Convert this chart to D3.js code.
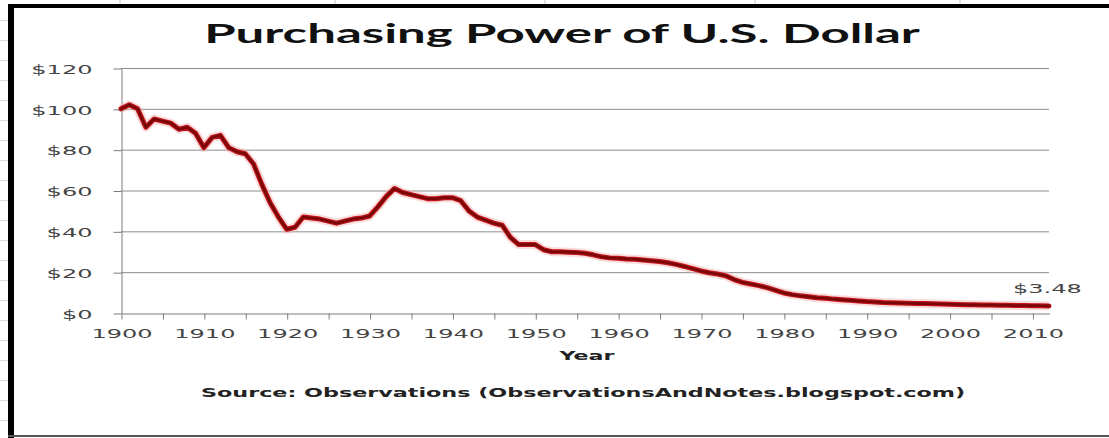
<!DOCTYPE html>
<html>
<head>
<meta charset="utf-8">
<script src="https://cdn.jsdelivr.net/npm/d3@7"></script>
<style>
  body { margin: 0; background: #fff; }
  svg { display: block; }
</style>
</head>
<body>
<div id="chart"></div>
<script>
'use strict';

// one value per year, 1900 .. 2012 (value of $100 from 1900)
var years = d3.range(1900, 2013);
var dollarValues = [
  100, 102, 100, 91, 95, 94, 93, 90, 91, 88,          // 1900s
  81, 86, 87, 81, 79, 78, 73, 63, 54, 47,             // 1910s
  41, 42, 47, 46.5, 46, 45, 44, 45, 46, 46.5,         // 1920s
  47.5, 52, 57, 61, 59, 58, 57, 56, 56, 56.5,         // 1930s
  56.5, 55, 50, 47, 45.5, 44, 43, 37, 33.5, 33.5,     // 1940s
  33.5, 31, 30, 30, 29.8, 29.6, 29.3, 28.5, 27.5, 27, // 1950s
  26.8, 26.5, 26.3, 26, 25.6, 25.2, 24.6, 23.8, 22.8, 21.7, // 1960s
  20.6, 19.7, 19.1, 18.2, 16.4, 15.0, 14.2, 13.4, 12.4, 11.1, // 1970s
  9.8, 9.0, 8.4, 8.0, 7.5, 7.2, 6.8, 6.5, 6.2, 5.9,   // 1980s
  5.6, 5.4, 5.1, 5.0, 4.9, 4.8, 4.7, 4.6, 4.5, 4.4,   // 1990s
  4.3, 4.2, 4.1, 4.0, 3.95, 3.9, 3.85, 3.75, 3.7, 3.65, // 2000s
  3.6, 3.55, 3.48                                      // 2010s
];

var yTickValues = [0, 20, 40, 60, 80, 100, 120];
var xTickYears = d3.range(1900, 2011, 5);   // labels only every 10 years

var titleText = 'Purchasing Power of U.S. Dollar';
var xTitleText = 'Year';
var sourceText = 'Source: Observations (ObservationsAndNotes.blogspot.com)';
var endLabelText = '$3.48';

var width = 1109, height = 438;
var stretch = 1.85;   // the original picture is stretched sideways

var svg = d3.select('#chart')
    .append('svg')
    .attr('width', width)
    .attr('height', height);

svg.append('rect').attr('width', width).attr('height', height).attr('fill', '#fff');

// bits of the spreadsheet behind the chart
svg.append('g')
    .selectAll('line')
    .data([120, 335, 545, 755, 960])
    .join('line')
      .attr('x1', function(d) { return d; }).attr('x2', function(d) { return d; })
      .attr('y1', 0).attr('y2', 4)
      .attr('stroke', '#c8c8c8');
svg.append('g')
    .selectAll('line')
    .data(d3.range(20, height, 20))
    .join('line')
      .attr('x1', 0).attr('x2', 8)
      .attr('y1', function(d) { return d + 0.5; }).attr('y2', function(d) { return d + 0.5; })
      .attr('stroke', '#dcdcdc');

// chart frame (left and top black border, thin grey bottom)
svg.append('rect').attr('x', 8).attr('y', 4).attr('width', 6).attr('height', height - 4).attr('fill', '#000');
svg.append('rect').attr('x', 8).attr('y', 4).attr('width', width - 8).attr('height', 4).attr('fill', '#000');
svg.append('line')
    .attr('x1', 8).attr('x2', width)
    .attr('y1', 436).attr('y2', 436)
    .attr('stroke', '#555').attr('stroke-width', 2);

var x = d3.scaleLinear().domain([1900, 2012]).range([121, 1049]);
var y = d3.scaleLinear().domain([0, 120]).range([313, 68]);

// horizontal gridlines
svg.append('g')
    .selectAll('line')
    .data(yTickValues.slice(1))
    .join('line')
      .attr('x1', x(1900)).attr('x2', x(2012))
      .attr('y1', function(d) { return y(d) + 0.5; })
      .attr('y2', function(d) { return y(d) + 0.5; })
      .attr('stroke', '#8c8c8c')
      .attr('stroke-width', 1);

// y axis
var yAxis = svg.append('g')
    .attr('transform', 'translate(121.5,0.5)')
    .call(d3.axisLeft(y).tickValues(yTickValues).tickSize(8).tickSizeOuter(0)
      .tickFormat(function(d) { return '$' + d; }));

yAxis.selectAll('path, line').attr('stroke', '#7c7c7c');
yAxis.selectAll('text')
    .attr('x', -29 / stretch)
    .attr('dy', '0.36em')
    .attr('transform', 'scale(' + stretch + ',1)')
    .attr('font-family', 'DejaVu Sans, Verdana, sans-serif')
    .attr('font-size', 13)
    .attr('fill', '#444');

// x axis
var xAxis = svg.append('g')
    .attr('transform', 'translate(0.5,313.5)')
    .call(d3.axisBottom(x).tickValues(xTickYears).tickSize(6).tickSizeOuter(0)
      .tickFormat(function(d) { return d % 10 === 0 ? d : ''; }));

xAxis.selectAll('path, line').attr('stroke', '#7c7c7c');
xAxis.selectAll('text')
    .attr('y', 25)
    .attr('dy', 0)
    .attr('transform', 'scale(' + stretch + ',1)')
    .attr('font-family', 'DejaVu Sans, Verdana, sans-serif')
    .attr('font-size', 13)
    .attr('fill', '#444');

// the line, with a soft red edge like the picture
var points = years.map(function(yr, i) { return [yr, dollarValues[i]]; });
var line = d3.line()
    .x(function(d) { return x(d[0]); })
    .y(function(d) { return y(d[1]); });

svg.append('path').datum(points)
    .attr('d', line)
    .attr('fill', 'none')
    .attr('stroke', '#f2b4b4')
    .attr('stroke-width', 9)
    .attr('stroke-opacity', 0.45)
    .attr('stroke-linejoin', 'round');

svg.append('path').datum(points)
    .attr('d', line)
    .attr('fill', 'none')
    .attr('stroke', '#c01218')
    .attr('stroke-width', 5)
    .attr('stroke-linejoin', 'round')
    .attr('stroke-linecap', 'round');

svg.append('path').datum(points)
    .attr('d', line)
    .attr('fill', 'none')
    .attr('stroke', '#780808')
    .attr('stroke-width', 2.6)
    .attr('stroke-linejoin', 'round')
    .attr('stroke-linecap', 'round');

// texts, stretched sideways to match the picture
function stretchedText(txt, px, py, anchor, family, size, weight, color, targetWidth) {
  var t = svg.append('text')
      .attr('text-anchor', anchor)
      .attr('font-family', family)
      .attr('font-size', size)
      .attr('font-weight', weight)
      .attr('fill', color)
      .text(txt);
  var sx = stretch;
  if (targetWidth) {
    sx = targetWidth / t.node().getComputedTextLength();
  }
  t.attr('transform', 'translate(' + px + ',' + py + ') scale(' + sx + ',1)');
  return t;
}

stretchedText(titleText, 562, 43, 'middle', 'Lato, "Open Sans", sans-serif', 26, 700, '#111', 716);
stretchedText(xTitleText, 587, 360, 'middle', 'DejaVu Sans, Verdana, sans-serif', 12, 700, '#222');
stretchedText(sourceText, 201, 397, 'start', 'DejaVu Sans, Verdana, sans-serif', 12, 700, '#222', 765);
stretchedText(endLabelText, 1013, 293, 'start', 'DejaVu Sans, Verdana, sans-serif', 13, 400, '#444');

</script>
</body>
</html>
